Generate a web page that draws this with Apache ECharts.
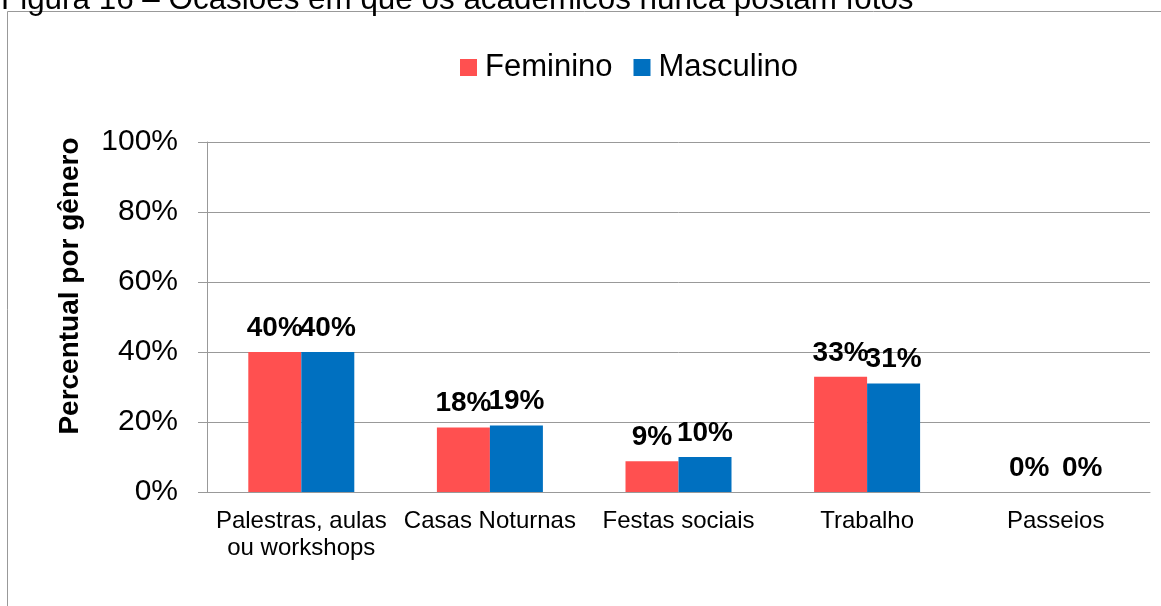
<!DOCTYPE html>
<html>
<head>
<meta charset="utf-8">
<script src="https://cdn.jsdelivr.net/npm/echarts@6/dist/echarts.min.js"></script>
<style>
  html, body { margin: 0; padding: 0; background: #fff; }
  #container { width: 1161px; height: 606px; }
</style>
</head>
<body>
<div id="container"></div>
<script>
var categories = ['Palestras, aulas\nou workshops', 'Casas Noturnas', 'Festas sociais', 'Trabalho', 'Passeios']
var feminino = [40, 18.4, 8.8, 32.9, 0]
var masculino = [40, 19, 10, 31, 0]
var yTicks = [0, 20, 40, 60, 80, 100]

var font = 'Liberation Sans, Arial, sans-serif'
var myChart = echarts.init(document.getElementById('container'))

var barLabel = {
  show: true,
  position: 'top',
  distance: 10,
  fontFamily: font,
  fontSize: 28,
  fontWeight: 'bold',
  color: '#000',
  formatter: function (p) { return Math.round(p.value) + '%' }
}

var option = {
  animation: false,
  backgroundColor: '#fff',
  graphic: [
    {
      type: 'rect',
      shape: { x: 7.5, y: 11.5, width: 1170, height: 640 },
      style: { fill: 'none', stroke: '#999', lineWidth: 1 }
    },
    {
      type: 'text',
      x: 1,
      y: 16,
      style: {
        text: 'Figura 16 – Ocasiões em que os acadêmicos nunca postam fotos',
        font: '31.4px ' + font,
        fill: '#000',
        verticalAlign: 'bottom'
      }
    }
  ],
  legend: {
    top: 47,
    left: 455,
    itemWidth: 17,
    itemHeight: 17,
    itemGap: 21,
    icon: 'rect',
    textStyle: { fontFamily: font, fontSize: 31, color: '#000', padding: [0, 0, 0, 3] },
    data: ['Feminino', 'Masculino']
  },
  grid: { left: 207, right: 11, top: 142, bottom: 114 },
  xAxis: {
    type: 'category',
    data: categories,
    axisLine: { lineStyle: { color: '#999' } },
    axisTick: { show: false },
    axisLabel: {
      fontFamily: font,
      fontSize: 24,
      color: '#000',
      margin: 16,
      lineHeight: 27,
      interval: 0
    }
  },
  yAxis: {
    type: 'value',
    min: yTicks[0],
    max: yTicks[yTicks.length - 1],
    interval: 20,
    name: 'Percentual por gênero',
    nameLocation: 'middle',
    nameGap: 123,
    nameTextStyle: {
      fontFamily: font,
      fontSize: 28,
      fontWeight: 'bold',
      color: '#000',
      padding: [0, 0, 0, 62]
    },
    axisLine: { show: true, lineStyle: { color: '#999' } },
    axisTick: { show: true, length: 9, lineStyle: { color: '#999' } },
    splitLine: { lineStyle: { color: '#999' } },
    axisLabel: {
      fontFamily: font,
      fontSize: 30,
      color: '#000',
      margin: 29,
      formatter: '{value}%'
    }
  },
  series: [
    {
      name: 'Feminino',
      type: 'bar',
      data: feminino,
      barWidth: 53,
      barGap: '0%',
      itemStyle: { color: '#FF5050' },
      label: barLabel
    },
    {
      name: 'Masculino',
      type: 'bar',
      data: masculino,
      barWidth: 53,
      itemStyle: { color: '#0070C0' },
      label: barLabel
    }
  ]
}

myChart.setOption(option)
</script>
</body>
</html>
